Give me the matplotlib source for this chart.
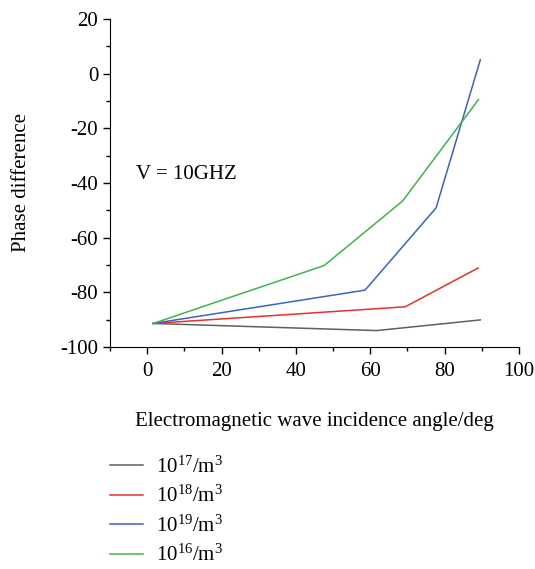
import matplotlib
matplotlib.use('Agg')
import matplotlib.pyplot as plt
from matplotlib.ticker import MultipleLocator

plt.rcParams['font.family'] = ['Liberation Serif', 'DejaVu Serif']
plt.rcParams['mathtext.fontset'] = 'custom'
plt.rcParams['mathtext.rm'] = 'Liberation Serif'
plt.rcParams['axes.unicode_minus'] = False

# data
x_1e17 = [1.6, 61.7, 89.6]
y_1e17 = [-91.4, -94.0, -90.1]
x_1e18 = [1.6, 69.4, 89.0]
y_1e18 = [-91.4, -85.3, -71.1]
x_1e19 = [1.6, 58.6, 77.7, 89.6]
y_1e19 = [-91.4, -79.2, -49.1, 5.1]
x_1e16 = [1.6, 47.6, 68.7, 89.1]
y_1e16 = [-91.4, -70.2, -46.6, -9.5]

labels = ['$\\mathregular{10^{17}}$/m$\\mathregular{^3}$',
          '$\\mathregular{10^{18}}$/m$\\mathregular{^3}$',
          '$\\mathregular{10^{19}}$/m$\\mathregular{^3}$',
          '$\\mathregular{10^{16}}$/m$\\mathregular{^3}$']
colors = ['#5f5f5f', '#e8302c', '#3b63c5', '#3db54b']

fig = plt.figure(figsize=(5.35, 5.69), dpi=100)
ax = fig.add_axes([0.2056, 0.3902, 0.7645, 0.5764])

series = [(x_1e17, y_1e17), (x_1e18, y_1e18), (x_1e19, y_1e19), (x_1e16, y_1e16)]
for (xs, ys), c, lab in zip(series, colors, labels):
    ax.plot(xs, ys, color=c, lw=1.1, label=lab)

ax.set_xlim(-10, 100)
ax.set_ylim(-100, 20)
ax.xaxis.set_major_locator(MultipleLocator(20))
ax.xaxis.set_minor_locator(MultipleLocator(10))
ax.yaxis.set_major_locator(MultipleLocator(20))
ax.yaxis.set_minor_locator(MultipleLocator(10))
ax.spines['top'].set_visible(False)
ax.spines['right'].set_visible(False)
ax.tick_params(which='major', length=5, width=1, labelsize=15, direction='out')
ax.tick_params(axis='x', which='major', pad=6)
ax.tick_params(which='minor', length=3, width=1, direction='out')

ax.set_xlabel('Electromagnetic wave incidence angle/deg', fontsize=15, labelpad=22)
ax.set_ylabel('Phase difference', fontsize=15, labelpad=21)
ax.text(-3, -37, 'V = 10GHZ', fontsize=15, va='center', ha='left')

fig.legend(loc='upper left', bbox_to_anchor=(0.19, 0.213), frameon=False,
           fontsize=15, handlelength=1.6, handletextpad=0.6, labelspacing=0.4,
           borderaxespad=0)

fig.savefig('out.png', dpi=100)
